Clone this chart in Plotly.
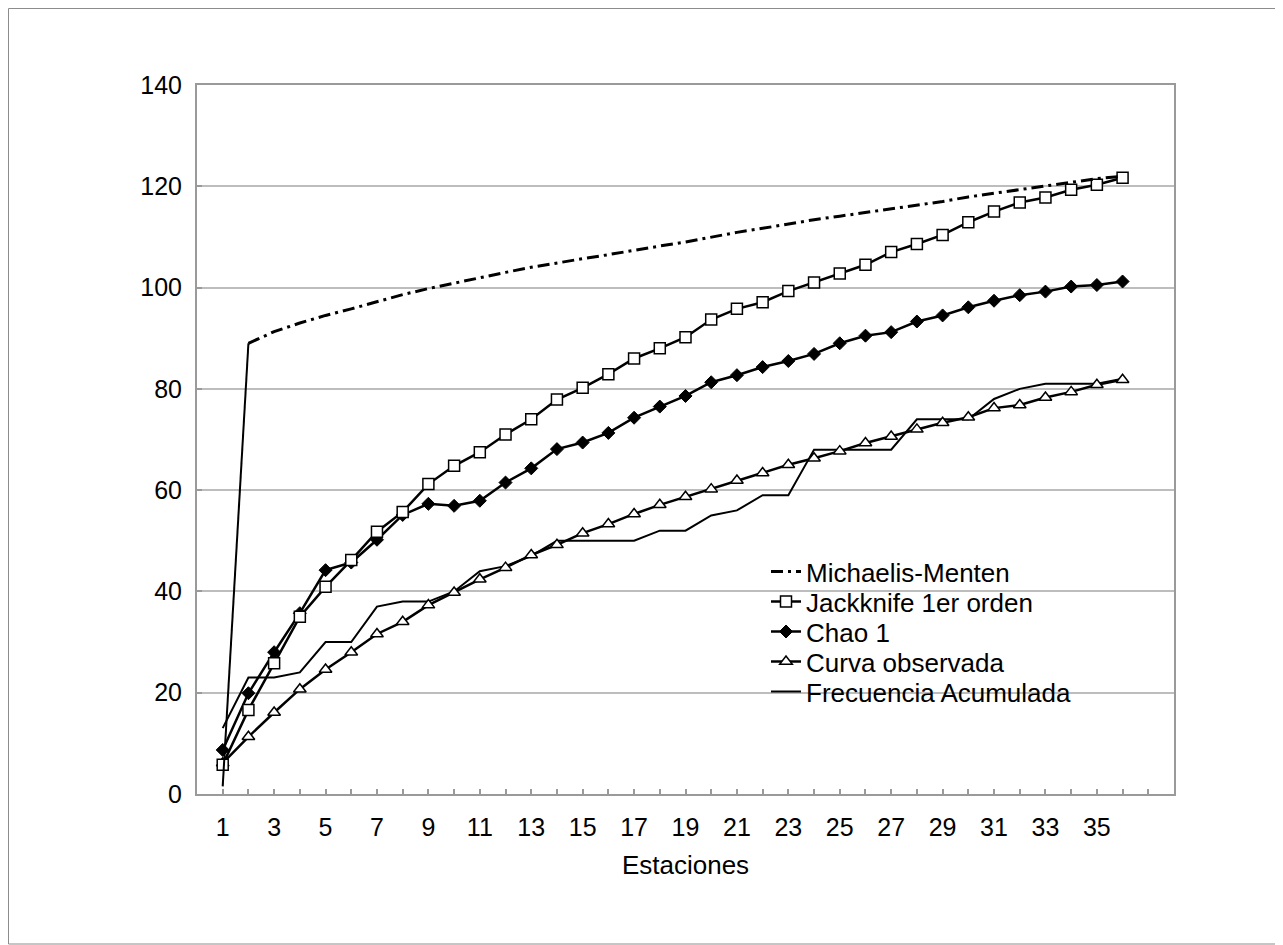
import plotly.graph_objects as go

# ---- data ----
estaciones = list(range(1, 37))

michaelis_menten = [1.5, 89.0, 91.3, 93.0, 94.5, 95.8, 97.2, 98.6, 99.8, 100.9,
                    102.0, 103.0, 104.0, 104.9, 105.7, 106.5, 107.4, 108.2, 109.0, 110.0,
                    110.9, 111.7, 112.6, 113.4, 114.1, 114.8, 115.5, 116.2, 117.0, 117.9,
                    118.6, 119.3, 120.0, 120.8, 121.5, 122.0]

jackknife = [5.8, 16.6, 25.8, 35.0, 40.9, 46.2, 51.8, 55.7, 61.2, 64.8,
             67.5, 71.0, 74.0, 77.9, 80.2, 82.9, 86.0, 88.0, 90.2, 93.7,
             95.8, 97.1, 99.3, 101.0, 102.8, 104.5, 107.0, 108.6, 110.4, 112.9,
             115.0, 116.8, 117.8, 119.3, 120.3, 121.7]

chao1 = [8.7, 19.9, 28.0, 35.7, 44.2, 45.7, 50.2, 55.1, 57.3, 56.9,
         57.9, 61.5, 64.3, 68.1, 69.4, 71.3, 74.3, 76.5, 78.6, 81.3,
         82.7, 84.3, 85.5, 86.9, 89.0, 90.5, 91.2, 93.3, 94.5, 96.1,
         97.4, 98.5, 99.2, 100.2, 100.5, 101.2]

curva_observada = [6.1, 11.3, 16.1, 20.7, 24.6, 28.0, 31.6, 34.0, 37.3, 39.8,
                   42.4, 44.7, 47.2, 49.2, 51.5, 53.3, 55.3, 57.1, 58.7, 60.2,
                   61.9, 63.4, 65.0, 66.3, 67.7, 69.3, 70.6, 72.0, 73.3, 74.4,
                   76.2, 76.8, 78.3, 79.4, 80.8, 81.8]

frecuencia_acumulada = [13, 23, 23, 24, 30, 30, 37, 38, 38, 40,
                        44, 45, 47, 50, 50, 50, 50, 52, 52, 55,
                        56, 59, 59, 68, 68, 68, 68, 74, 74, 74,
                        78, 80, 81, 81, 81, 82]

x_tick_labels = [str(v) for v in range(1, 36, 2)]
y_tick_values = list(range(0, 141, 20))

# ---- styling ----
FONT = "Arial, Liberation Sans, sans-serif"
FS = 26
FS_TICK = 25
GRID = "#bdbdbd"
AXIS = "#9a9a9a"

fig = go.Figure()

# Frecuencia Acumulada (thin solid line)
fig.add_trace(go.Scatter(
    x=estaciones, y=frecuencia_acumulada, mode="lines",
    name="Frecuencia Acumulada", legend="legend5",
    line=dict(color="black", width=2)))

# Curva observada
fig.add_trace(go.Scatter(
    x=estaciones, y=curva_observada, mode="lines+markers",
    name="Curva observada", legend="legend4",
    line=dict(color="black", width=2.5),
    marker=dict(symbol="triangle-up", size=11, color="white",
                line=dict(color="black", width=1.5))))

# Chao 1
fig.add_trace(go.Scatter(
    x=estaciones, y=chao1, mode="lines+markers",
    name="Chao 1", legend="legend3",
    line=dict(color="black", width=2.5),
    marker=dict(symbol="diamond", size=10, color="black",
                line=dict(color="black", width=1))))

# Jackknife 1er orden
fig.add_trace(go.Scatter(
    x=estaciones, y=jackknife, mode="lines+markers",
    name="Jackknife 1er orden", legend="legend2",
    line=dict(color="black", width=2.5),
    marker=dict(symbol="square", size=11, color="white",
                line=dict(color="black", width=1.5))))

# Michaelis-Menten: first (steep) segment drawn solid, rest dash-dot
fig.add_trace(go.Scatter(
    x=estaciones[:2], y=michaelis_menten[:2], mode="lines",
    showlegend=False, hoverinfo="skip",
    line=dict(color="black", width=2)))
fig.add_trace(go.Scatter(
    x=estaciones[1:], y=michaelis_menten[1:], mode="lines",
    name="Michaelis-Menten", legend="legend",
    line=dict(color="black", width=3, dash="12px,5px,3px,5px")))

# ---- layout geometry (pixels; the page body adds an 8px offset) ----
OFF = 8
W, H = 1283 - OFF, 945 - OFF
L, T = 197 - OFF, 85 - OFF
R = W - (1174 - OFF)
B = H - (794 - OFF)
PW, PH = W - L - R, H - T - B


def px_x(px):
    # px given in window coordinates
    return (px - OFF - L) / PW


def px_y(py):
    return (H - B - (py - OFF)) / PH


legend_centers = [571.5, 601.5, 631.5, 661.5, 691.5]
item_half = 5 + (FS * 1.3 + 3) / 2
legend_left = 766

legend_common = dict(
    bgcolor="rgba(0,0,0,0)", borderwidth=0,
    font=dict(family=FONT, size=FS, color="black"),
    xanchor="left", yanchor="top", x=px_x(legend_left))

layout_legends = {}
for i, c in enumerate(legend_centers):
    key = "legend" if i == 0 else f"legend{i + 1}"
    layout_legends[key] = dict(legend_common, y=px_y(c - item_half))

fig.update_layout(
    width=W, height=H,
    margin=dict(l=L, r=R, t=T, b=B, pad=0),
    paper_bgcolor="white", plot_bgcolor="white",
    font=dict(family=FONT, size=FS, color="black"),
    showlegend=True,
    **layout_legends,
    xaxis=dict(
        range=[0, 38], showgrid=False, zeroline=False,
        tickmode="array", tickvals=list(range(1, 36, 2)), ticktext=x_tick_labels,
        ticks="inside", ticklen=5, tickcolor=AXIS, tickwidth=1.5,
        minor=dict(ticks="inside", dtick=1, tick0=0, ticklen=5,
                   tickcolor=AXIS, tickwidth=1.5, showgrid=False),
        showline=True, linecolor=AXIS, linewidth=2, mirror=True,
        ticklabelstandoff=10,
        tickfont=dict(family=FONT, size=FS_TICK, color="black"),
        title=dict(text="Estaciones", standoff=16,
                   font=dict(family=FONT, size=FS, color="black")),
    ),
    yaxis=dict(
        range=[0, 140], tickvals=y_tick_values,
        showgrid=True, gridcolor=GRID, gridwidth=2, zeroline=False,
        ticks="inside", ticklen=5, tickcolor=AXIS, tickwidth=1.5,
        showline=True, linecolor=AXIS, linewidth=2, mirror=True,
        ticklabelstandoff=8,
        tickfont=dict(family=FONT, size=FS_TICK, color="black"),
    ),
    shapes=[
        # white legend area hiding the gridlines
        dict(type="rect", xref="paper", yref="paper", layer="between",
             x0=px_x(740), x1=px_x(1143), y0=px_y(712), y1=px_y(553),
             fillcolor="white", line=dict(width=0)),
        # outer chart frame
        dict(type="rect", xref="paper", yref="paper", layer="above",
             x0=px_x(OFF + 0.5), x1=px_x(1282.5), y0=px_y(944), y1=px_y(OFF + 0.5),
             line=dict(color="#8c8c8c", width=1)),
    ],
)

fig.write_html("out.html")
